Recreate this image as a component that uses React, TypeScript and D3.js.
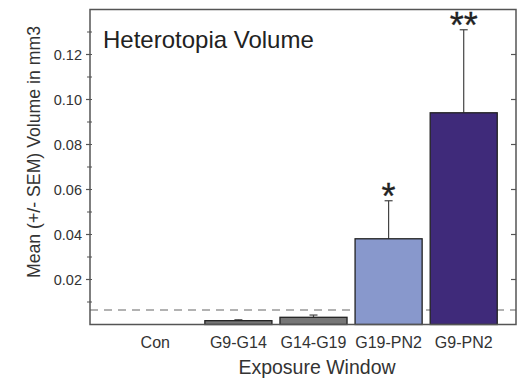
import React from "react";
import * as d3 from "d3";

const categories = ["Con", "G9-G14", "G14-G19", "G19-PN2", "G9-PN2"];
const means = [0, 0.0017, 0.0032, 0.0381, 0.0941];
const sems = [0, 0.0004, 0.001, 0.0169, 0.0369];
const colors = ["#777777", "#777777", "#777777", "#8898cc", "#3f2a7a"];
const stars = ["", "", "", "*", "**"];
const majorTicks = [0.02, 0.04, 0.06, 0.08, 0.1, 0.12];
const minorTicks = [0.01, 0.02, 0.03, 0.04, 0.05, 0.06, 0.07, 0.08, 0.09, 0.1, 0.11, 0.12, 0.13];
const controlLine = 0.0065;

const W = 522, H = 382;
const L = 90, R = 516, T = 9.5, B = 324.5;

export default function App() {
  const y = d3.scaleLinear().domain([0, 0.14]).range([B, T]);
  const x = d3.scaleBand().domain(categories).range([126, 501]).paddingInner(0.107).paddingOuter(0.05);
  const bw = x.bandwidth();
  const font = "Arial, 'Liberation Sans', sans-serif";
  return (
    <svg width={W} height={H} style={{ position: "absolute", left: 0, top: 0 }} fontFamily={font}>
      <rect x={0} y={0} width={W} height={H} fill="#fff" />
      {/* dashed control line */}
      <line x1={L} x2={R} y1={y(controlLine)} y2={y(controlLine)} stroke="#999" strokeWidth={1.5} strokeDasharray="8,6" />
      {/* bars */}
      {categories.map((c, i) => {
        const x0 = x(c)!;
        const cx = x0 + bw / 2;
        if (means[i] <= 0) return null;
        const top = y(means[i] + sems[i]);
        return (
          <g key={c}>
            <line x1={cx} x2={cx} y1={y(means[i])} y2={top} stroke="#444" strokeWidth={1.2} />
            <line x1={cx - 4} x2={cx + 4} y1={top} y2={top} stroke="#444" strokeWidth={1.2} />
            <rect x={x0} y={y(means[i])} width={bw} height={B - y(means[i])} fill={colors[i]} stroke="#222" strokeWidth={1.3} />
            {stars[i] && (
              <text x={cx} y={top + 8} textAnchor="middle" fontSize={36} fill="#222" stroke="#222" strokeWidth={0.3} letterSpacing={0}>{stars[i]}</text>
            )}
          </g>
        );
      })}
      {/* frame */}
      <path d={`M${L},${T}H${R}V${B}H${L}Z`} fill="none" stroke="#555" strokeWidth={1.5} />
      {/* left ticks */}
      {minorTicks.map(t => (
        <line key={"m" + t} x1={L - 3} x2={L + 2} y1={y(t)} y2={y(t)} stroke="#555" strokeWidth={1} />
      ))}
      {majorTicks.map(t => (
        <g key={"M" + t}>
          <line x1={L - 4} x2={L} y1={y(t)} y2={y(t)} stroke="#555" strokeWidth={1.2} />
          <line x1={R - 5} x2={R} y1={y(t)} y2={y(t)} stroke="#555" strokeWidth={1.2} />
          <text x={L - 8} y={y(t)} dy="0.36em" textAnchor="end" fontSize={14.5} fill="#333">{d3.format(".2f")(t)}</text>
        </g>
      ))}
      {/* x labels */}
      {categories.map(c => (
        <text key={"xl" + c} x={x(c)! + bw / 2 - (c === "Con" ? 8 : 0)} y={348} textAnchor="middle" fontSize={16} fill="#333">{c}</text>
      ))}
      <text x={317} y={374} textAnchor="middle" fontSize={19.5} fill="#333">Exposure Window</text>
      <text transform={`translate(40,152) rotate(-90)`} textAnchor="middle" fontSize={17.7} fill="#333">Mean (+/- SEM) Volume in mm3</text>
      <text x={103} y={48} fontSize={24} fill="#222">Heterotopia Volume</text>
    </svg>
  );
}
